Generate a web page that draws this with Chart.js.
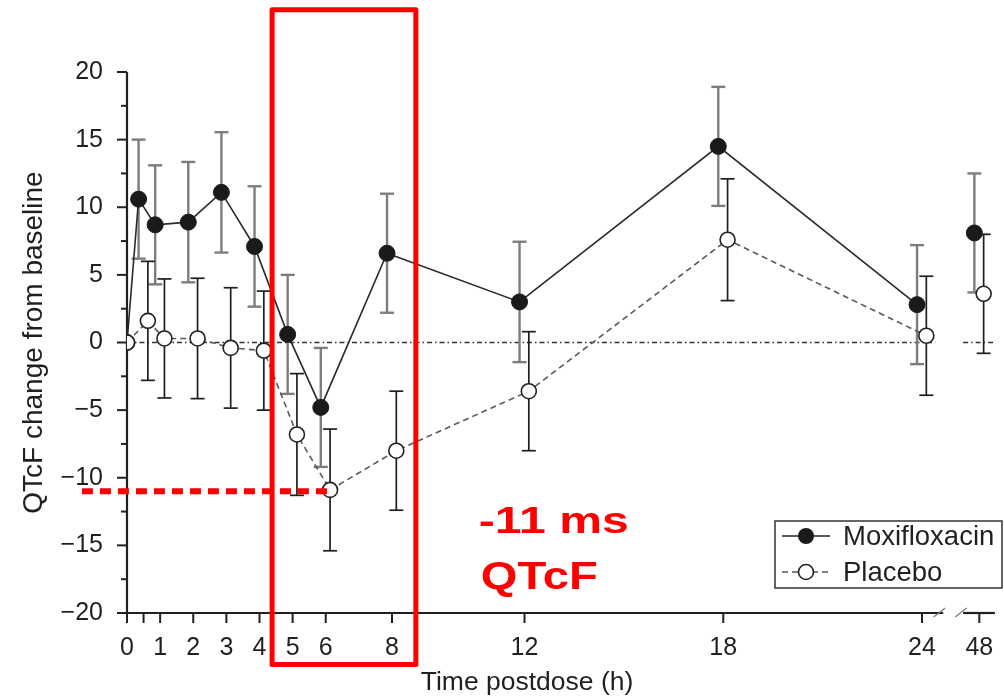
<!DOCTYPE html>
<html><head><meta charset="utf-8">
<script src="https://cdn.jsdelivr.net/npm/chart.js@4.4.1/dist/chart.umd.min.js"></script>
<style>html,body{margin:0;padding:0;background:#fff;}#wrap{width:1004px;height:696px;}</style>
</head><body><div id="wrap"><canvas id="c" width="1004" height="696"></canvas></div>
<script>
// ---- data ----
const timeHours = [0, 0.5, 1, 2, 3, 4, 5, 6, 8, 12, 18, 24, 48];
const xTickHours = [0, 1, 2, 3, 4, 5, 6, 8, 12, 18, 24, 48];
const xTickLabels = ['0', '1', '2', '3', '4', '5', '6', '8', '12', '18', '24', '48'];
const xMinorTickHours = [0.5];
const yTickValues = [-20, -15, -10, -5, 0, 5, 10, 15, 20];
const moxiMean = [0, 10.6, 8.7, 8.9, 11.1, 7.1, 0.6, -4.8, 6.6, 3.0, 14.5, 2.8, 8.1];
const moxiErr = [null, 4.4, 4.4, 4.45, 4.45, 4.45, 4.4, 4.4, 4.4, 4.45, 4.4, 4.4, 4.4];
const placeboMean = [0, 1.6, 0.3, 0.3, -0.4, -0.6, -6.8, -10.9, -8.0, -3.6, 7.6, 0.5, 3.6];
const placeboErr = [null, 4.4, 4.4, 4.45, 4.45, 4.4, 4.5, 4.5, 4.4, 4.4, 4.5, 4.4, 4.4];
const seriesNames = ['Moxifloxacin', 'Placebo'];
const highlightValue = -11;
const highlightText = ['-11 ms', 'QTcF'];

// ---- axis-break mapping (hours -> axis units) ----
const POS_48 = 25.73, X_MAX = 26.2;
function axisPos(t) { return t <= 24 ? t : POS_48; }
const MOXI_SHIFT = -0.15, PLAC_SHIFT = 0.13;
function toPoints(means, shift) {
  return timeHours.map((t, i) => ({ x: axisPos(t) + (t === 0 ? 0 : shift), y: means[i] }));
}

const INK = '#231f20';
const FONT = '"Liberation Sans", Arial, Helvetica, sans-serif';

function seg(ctx, x1, y1, x2, y2) { ctx.beginPath(); ctx.moveTo(x1, y1); ctx.lineTo(x2, y2); ctx.stroke(); }

const decor = {
  id: 'decor',
  beforeDatasetsDraw(chart) {
    const { ctx, scales: { x, y }, chartArea: a } = chart;
    const X = v => x.getPixelForValue(v), Y = v => y.getPixelForValue(v);
    ctx.save();
    // zero reference line
    ctx.strokeStyle = '#333'; ctx.lineWidth = 1.5; ctx.setLineDash([5, 3, 1.5, 3]);
    seg(ctx, X(0), Y(0), X(24.4), Y(0));
    seg(ctx, X(25.24), Y(0), a.right, Y(0));
    ctx.setLineDash([]);
    // axes
    ctx.strokeStyle = INK; ctx.lineWidth = 2.2;
    seg(ctx, a.left, Y(20), a.left, Y(-20));
    seg(ctx, a.left - 1, a.bottom, X(24.64), a.bottom);
    seg(ctx, X(25.24), a.bottom, a.right, a.bottom);
    // break marks
    ctx.strokeStyle = '#777'; ctx.lineWidth = 1.2;
    seg(ctx, X(24.35), a.bottom + 4, X(24.7), a.bottom - 5);
    seg(ctx, X(25.0), a.bottom + 4, X(25.35), a.bottom - 5);
    // ticks
    ctx.strokeStyle = INK; ctx.lineWidth = 2;
    yTickValues.forEach(v => seg(ctx, a.left - 10, Y(v), a.left, Y(v)));
    for (let v = -17.5; v < 20; v += 5) seg(ctx, a.left - 6, Y(v), a.left, Y(v));
    xTickHours.concat(xMinorTickHours).forEach(t => seg(ctx, X(axisPos(t)), a.bottom, X(axisPos(t)), a.bottom + 10));
    // x tick labels
    ctx.fillStyle = INK; ctx.font = '25px ' + FONT; ctx.textAlign = 'center'; ctx.textBaseline = 'alphabetic';
    xTickHours.forEach((t, i) => ctx.fillText(xTickLabels[i], X(axisPos(t)), a.bottom + 42));
    // error bars
    const bars = [[moxiMean, moxiErr, MOXI_SHIFT, '#7d7d7d', 2.4], [placeboMean, placeboErr, PLAC_SHIFT, '#1e1e1e', 1.7]];
    bars.forEach(([m, e, sh, col, lw]) => {
      ctx.strokeStyle = col; ctx.lineWidth = lw;
      timeHours.forEach((t, i) => {
        if (e[i] == null) return;
        const px = X(axisPos(t) + sh), yt = Y(m[i] + e[i]), yb = Y(m[i] - e[i]);
        seg(ctx, px, yt, px, yb);
        seg(ctx, px - 7, yt, px + 7, yt);
        seg(ctx, px - 7, yb, px + 7, yb);
      });
    });
    ctx.restore();
  },
  afterDraw(chart) {
    const { ctx, scales: { x, y }, chartArea: a } = chart;
    const X = v => x.getPixelForValue(v), Y = v => y.getPixelForValue(v);
    ctx.save();
    // axis titles
    ctx.fillStyle = INK; ctx.textAlign = 'center'; ctx.textBaseline = 'middle';
    ctx.font = '26.5px ' + FONT;
    ctx.fillText('Time postdose (h)', 527, 683);
    ctx.save();
    ctx.translate(34, (a.top + a.bottom) / 2);
    ctx.rotate(-Math.PI / 2);
    ctx.font = '28px ' + FONT;
    ctx.fillText('QTcF change from baseline', 0, 0);
    ctx.restore();
    // legend
    const lx = 775, ly = 521, lw = 227, lh = 67;
    ctx.fillStyle = '#fff'; ctx.fillRect(lx, ly, lw, lh);
    ctx.strokeStyle = '#333'; ctx.lineWidth = 1.5; ctx.strokeRect(lx, ly, lw, lh);
    const rows = [ly + 15, ly + 51];
    ctx.strokeStyle = INK; ctx.lineWidth = 1.6;
    seg(ctx, lx + 7, rows[0], lx + 55, rows[0]);
    ctx.setLineDash([6, 4]); ctx.strokeStyle = '#555';
    seg(ctx, lx + 7, rows[1], lx + 55, rows[1]);
    ctx.setLineDash([]);
    ctx.fillStyle = '#1a1a1a';
    ctx.beginPath(); ctx.arc(lx + 31, rows[0], 8, 0, Math.PI * 2); ctx.fill();
    ctx.fillStyle = '#fff'; ctx.strokeStyle = '#222'; ctx.lineWidth = 1.6;
    ctx.beginPath(); ctx.arc(lx + 31, rows[1], 7.5, 0, Math.PI * 2); ctx.fill(); ctx.stroke();
    ctx.fillStyle = INK; ctx.textAlign = 'left'; ctx.font = '27.5px ' + FONT;
    ctx.fillText(seriesNames[0], lx + 68, rows[0] + 1);
    ctx.fillText(seriesNames[1], lx + 68, rows[1] + 1);
    // red highlight box
    ctx.strokeStyle = '#ff0000'; ctx.lineWidth = 5; ctx.lineJoin = 'round';
    ctx.strokeRect(X(4.38), Y(24.6), X(8.72) - X(4.38), Y(-23.8) - Y(24.6));
    // red dotted line at highlight value
    ctx.lineWidth = 6; ctx.setLineDash([11, 7]); ctx.lineCap = 'butt';
    seg(ctx, X(-1.36), Y(highlightValue), X(6.1), Y(highlightValue));
    ctx.setLineDash([]);
    // red text
    ctx.fillStyle = '#ff0000'; ctx.textBaseline = 'alphabetic'; ctx.textAlign = 'left';
    const drawStretched = (txt, size, px, py, targetW) => {
      ctx.font = 'bold ' + size + 'px ' + FONT;
      const w = ctx.measureText(txt).width;
      ctx.save(); ctx.translate(px, py); ctx.scale(targetW / w, 1); ctx.fillText(txt, 0, 0); ctx.restore();
    };
    drawStretched(highlightText[0], 36, X(10.62), Y(-14.05), 150);
    drawStretched(highlightText[1], 39, X(10.68), Y(-18.26), 117);
    ctx.restore();
  }
};

new Chart(document.getElementById('c'), {
  type: 'scatter',
  data: {
    datasets: [
      {
        label: seriesNames[1], data: toPoints(placeboMean, PLAC_SHIFT), showLine: true,
        borderColor: '#5a5a5a', borderWidth: 1.6, borderDash: [6, 4],
        pointRadius: 7.5, pointHoverRadius: 7.5, pointBackgroundColor: '#fff',
        pointBorderColor: '#222', pointBorderWidth: 1.6,
        segment: { borderColor: c => c.p1.parsed.x > 25 ? 'rgba(0,0,0,0)' : undefined }
      },
      {
        label: seriesNames[0], data: toPoints(moxiMean, MOXI_SHIFT), showLine: true,
        borderColor: '#2a2a2a', borderWidth: 1.6,
        pointRadius: 8, pointHoverRadius: 8, pointBackgroundColor: '#1a1a1a',
        pointBorderColor: '#1a1a1a', pointBorderWidth: 1,
        segment: { borderColor: c => c.p1.parsed.x > 25 ? 'rgba(0,0,0,0)' : undefined }
      }
    ]
  },
  options: {
    responsive: false, animation: false, devicePixelRatio: 1,
    layout: { padding: { top: 72, right: 7, left: 0, bottom: 0 } },
    plugins: { legend: { display: false }, tooltip: { enabled: false } },
    scales: {
      x: {
        type: 'linear', min: 0, max: X_MAX,
        afterBuildTicks: s => { s.ticks = xTickHours.map(t => ({ value: axisPos(t) })); },
        afterFit: s => { s.height = 83; },
        grid: { display: false, drawTicks: false }, border: { display: false },
        ticks: { display: false }
      },
      y: {
        min: -20, max: 20,
        afterBuildTicks: s => { s.ticks = yTickValues.map(v => ({ value: v })); },
        afterFit: s => { s.width = 127; },
        grid: { display: false, drawTicks: false }, border: { display: false },
        ticks: {
          padding: 24, color: INK, font: { family: FONT, size: 25 },
          callback: v => v < 0 ? '\u2212' + Math.abs(v) : String(v)
        }
      }
    }
  },
  plugins: [decor]
});
</script>
</body></html>
